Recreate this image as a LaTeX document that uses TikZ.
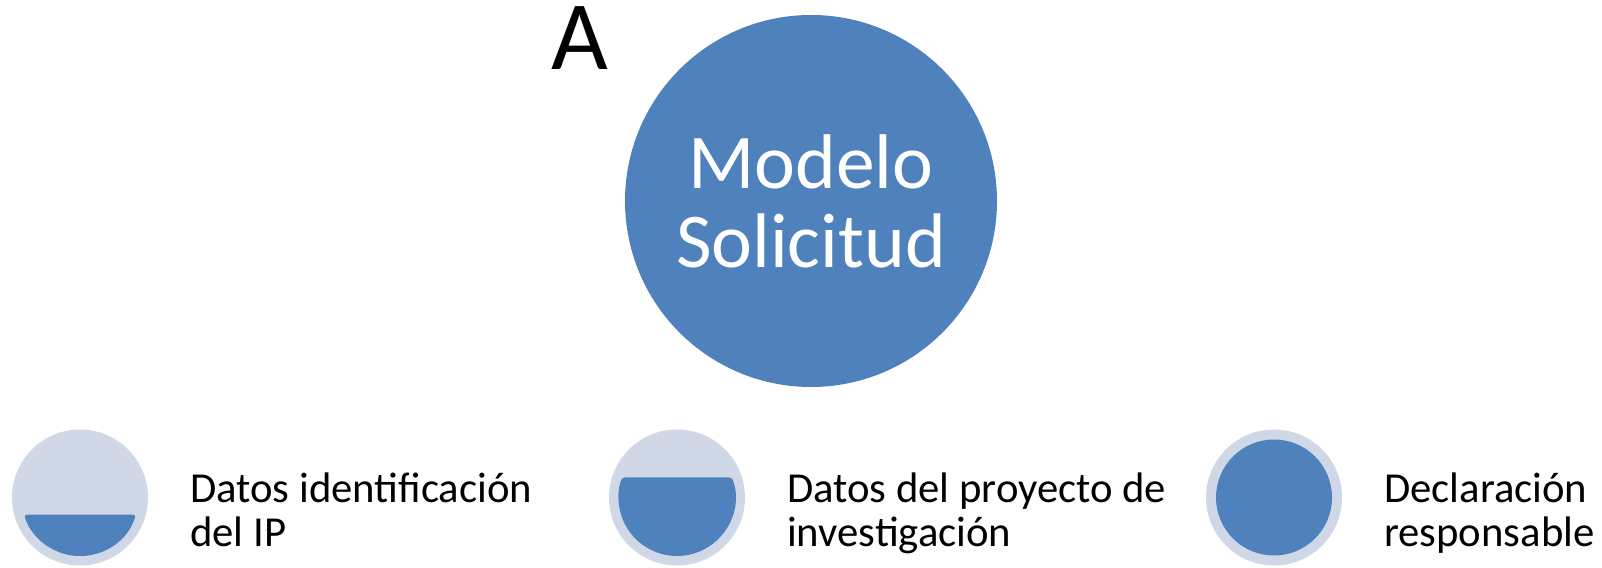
\documentclass[tikz,border=0pt]{standalone}
\usepackage{fontspec}
\setmainfont{Carlito}
\usepackage{tikz}
\usetikzlibrary{positioning}
\definecolor{modelblue}{HTML}{4F81BD}
\definecolor{ringgrey}{HTML}{D0D8E8}

\begin{document}
\begin{tikzpicture}[
    x=1pt, y=1pt,
    bigdot/.style={circle, fill=modelblue, minimum size=372pt, inner sep=0pt, align=center, text=white,
      font=\fontsize{77.5}{79}\selectfont},
    ringdot/.style={circle, fill=ringgrey, minimum size=136pt, inner sep=0pt},
    fulldot/.style={circle, fill=modelblue, minimum size=116pt, inner sep=0pt},
    lbl/.style={anchor=base west, align=left, inner sep=0pt, font=\fontsize{42.7}{44}\selectfont}
  ]
    \useasboundingbox (0,0) rectangle (1602,567);

    % main circle and its letter
    \node[bigdot] (solicitud) at (811,366) {Modelo\\Solicitud};
    \node[anchor=base west, inner sep=0pt, text height=62pt, text depth=0pt,
      font=\fontsize{98}{98}\selectfont] (letterA) at (551,497) {A};

    % three parts
    \node[ringdot] (datosIp) at (80,69.5) {};
    \node[ringdot] (datosProy) at (677,69.5) {};
    \node[ringdot] (declaracion) at (1274,69.5) {};

    \fill[modelblue, rounded corners=3pt] (datosIp.center) ++(-17.1:58.5)
      arc[start angle=-17.1, end angle=-162.9, radius=58.5] -- cycle;
    \fill[modelblue, rounded corners=3pt] (datosProy.center) ++(20.2:58.5)
      arc[start angle=20.2, end angle=-200.2, radius=58.5] -- cycle;
    \node[fulldot] (declaracionIn) at (declaracion.center) {};

    \node[lbl] (txtIp) at (190,20) {Datos identificación\\del IP};
    \node[lbl] (txtProy) at (787,20) {Datos del proyecto de\\investigación};
    \node[lbl] (txtDecl) at (1384,20) {Declaración\\responsable};
  \end{tikzpicture}
\end{document}
